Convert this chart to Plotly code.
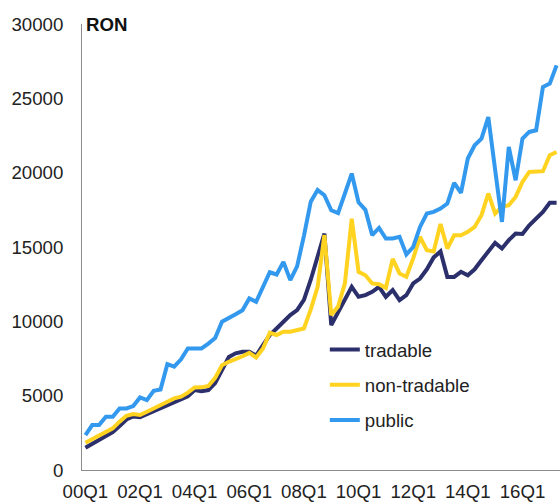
import plotly.graph_objects as go

# Quarter labels 2000Q1 .. 2017Q2
years = list(range(2000, 2018))
quarters = [f"{y % 100:02d}Q{q}" for y in years for q in (1, 2, 3, 4)][:70]
tick_labels = ["00Q1", "02Q1", "04Q1", "06Q1", "08Q1", "10Q1", "12Q1", "14Q1", "16Q1"]

tradable = [
    1500, 1750, 2000, 2250, 2550, 2950, 3400, 3600, 3550, 3750,
    3950, 4100, 4350, 4550, 4700, 4950, 5380, 5300, 5380, 5850,
    6720, 7600, 7850, 7950, 7950, 7700, 8400, 9070, 9520, 9970,
    10420, 10750, 11450, 12800, 14400, 15900, 9750, 10640, 11420, 12320,
    11650, 11760, 11980, 12320, 11650, 12100, 11420, 11760, 12550, 12880,
    13500, 14300, 14700, 12990, 12990, 13330, 13100, 13500, 14110, 14670,
    15280, 14900, 15460, 15900, 15880, 16460, 16900, 17360, 17970, 17970,
]
non_tradable = [
    1835, 2060, 2290, 2510, 2800, 3250, 3650, 3760, 3700, 3920,
    4140, 4300, 4590, 4815, 4930, 5200, 5550, 5560, 5650, 6200,
    7050, 7280, 7450, 7650, 7880, 7570, 8170, 9230, 9080, 9300,
    9300, 9410, 9520, 10800, 12300, 15800, 10420, 11000, 12550, 16900,
    13330, 13100, 12550, 12500, 12250, 14200, 13220, 13000, 14230, 15680,
    14790, 14700, 16550, 14900, 15790, 15790, 16020, 16350, 17140, 18600,
    17250, 17700, 17810, 18370, 19380, 20050, 20050, 20100, 21170, 21390,
]
public = [
    2350, 3020, 3020, 3580, 3580, 4140, 4140, 4300, 4880, 4700,
    5330, 5420, 7120, 6950, 7440, 8180, 8180, 8180, 8500, 8870,
    9970, 10190, 10480, 10750, 11540, 11310, 12320, 13300, 13150, 14000,
    12770, 13700, 15750, 18050, 18830, 18480, 17470, 17280, 18600, 19940,
    18000, 17500, 15800, 16280, 15570, 15570, 15680, 14500, 15000, 16350,
    17250, 17360, 17590, 17920, 19310, 18640, 20950, 21840, 22290, 23740,
    20200, 16690, 21730, 19490, 22290, 22740, 22850, 25760, 25990, 27220,
]

series = [
    ("tradable", tradable, "#2B2F6B"),
    ("non-tradable", non_tradable, "#FFD320"),
    ("public", public, "#3399EE"),
]

FONT = "Liberation Sans, Arial, sans-serif"
FS = 18.67

fig = go.Figure()
for name, vals, color in series:
    fig.add_trace(go.Scatter(
        x=quarters, y=vals, mode="lines", name=name, legendgroup=name,
        line=dict(color=color, width=4),
    ))

fig.update_layout(
    width=560, height=502,
    margin=dict(l=82, r=0, t=24, b=32, autoexpand=False),
    paper_bgcolor="white", plot_bgcolor="white",
    font=dict(family=FONT, size=FS, color="#222222"),
    showlegend=True,
    legend=dict(
        x=0.508, xanchor="left", y=0.312, yanchor="top",
        bgcolor="rgba(0,0,0,0)", traceorder="grouped", tracegroupgap=8,
        font=dict(family=FONT, size=FS, color="#222222"),
    ),
    xaxis=dict(
        type="category", categoryorder="array", categoryarray=quarters,
        range=[-0.5, 69.5], tickmode="array", tickvals=tick_labels, ticktext=tick_labels,
        showline=True, linecolor="#8c8c8c", linewidth=1, ticks="",
        showgrid=False, zeroline=False, tickangle=0, automargin=False,
        ticklabelstandoff=5,
        tickfont=dict(family=FONT, size=FS, color="#222222"),
    ),
    yaxis=dict(
        range=[0, 30000], dtick=5000, tick0=0, tickformat="d",
        showline=True, linecolor="#8c8c8c", linewidth=1, ticks="",
        showgrid=False, zeroline=False, automargin=False,
        ticklabelstandoff=14,
        tickfont=dict(family=FONT, size=FS, color="#222222"),
    ),
    annotations=[dict(
        text="<b>RON</b>", xref="paper", yref="paper", x=0, y=1,
        xanchor="left", yanchor="middle", xshift=2, showarrow=False,
        font=dict(family=FONT, size=FS, color="#111111"),
    )],
)

fig.write_html("out.html", config={"displayModeBar": False},
               post_script="document.body.style.margin='0';")
